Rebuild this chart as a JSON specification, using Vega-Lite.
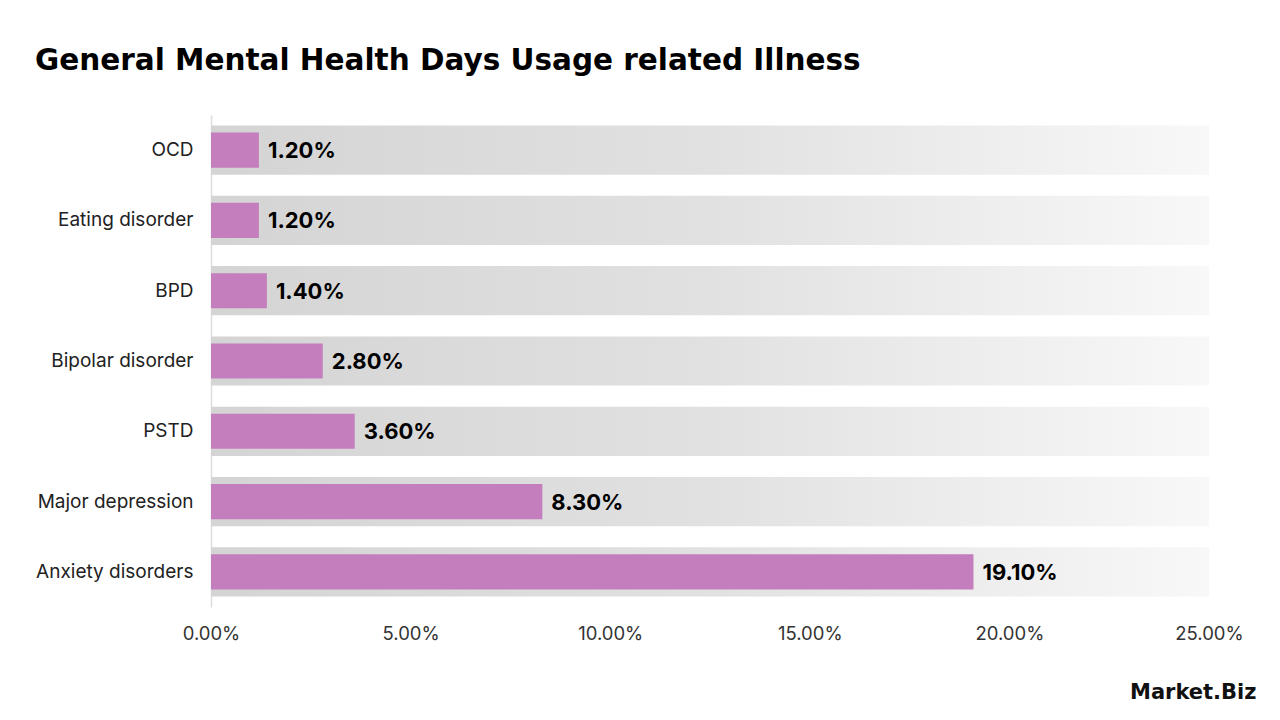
{
  "$schema": "https://vega.github.io/schema/vega-lite/v6.json",
  "width": 998,
  "height": 492,
  "autosize": {"type": "none"},
  "padding": {"left": 211, "top": 115, "right": 71, "bottom": 113},
  "background": "white",
  "config": {"view": {"stroke": null}, "font": "Inter"},
  "title": {
    "text": "General Mental Health Days Usage related Illness",
    "anchor": "start",
    "frame": "group",
    "dx": -176,
    "dy": 28,
    "fontSize": 29.5,
    "fontWeight": "bold",
    "font": "DejaVu Sans",
    "color": "#000000",
    "baseline": "alphabetic",
    "offset": 44
  },
  "data": {
    "values": [
      {"illness": "OCD", "share": 0.012},
      {"illness": "Eating disorder", "share": 0.012},
      {"illness": "BPD", "share": 0.014},
      {"illness": "Bipolar disorder", "share": 0.028},
      {"illness": "PSTD", "share": 0.036},
      {"illness": "Major depression", "share": 0.083},
      {"illness": "Anxiety disorders", "share": 0.191}
    ]
  },
  "encoding": {
    "y": {
      "field": "illness",
      "type": "nominal",
      "sort": null,
      "scale": {"paddingInner": 0, "paddingOuter": 0},
      "axis": {
        "title": null,
        "ticks": false,
        "domain": true,
        "domainColor": "#dddddd",
        "domainWidth": 1.5,
        "labelFontSize": 19,
        "labelColor": "#222222",
        "labelPadding": 18,
        "labelFont": "Inter"
      }
    }
  },
  "layer": [
    {
      "mark": {
        "type": "bar",
        "height": {"band": 0.7},
        "color": {
          "gradient": "linear",
          "x1": 0, "x2": 1, "y1": 0, "y2": 0,
          "stops": [
            {"offset": 0, "color": "#d4d4d4"},
            {"offset": 0.5, "color": "#e1e1e1"},
            {"offset": 1, "color": "#f8f8f8"}
          ]
        }
      },
      "encoding": {
        "x": {
          "datum": 0,
          "type": "quantitative",
          "scale": {"domain": [0, 0.25], "nice": false, "zero": true},
          "axis": {
            "values": [0, 0.05, 0.1, 0.15, 0.2, 0.25],
            "format": ".2%",
            "grid": false,
            "ticks": false,
            "domain": false,
            "labelFlush": false,
            "labelFontSize": 18.5,
            "labelColor": "#333333",
            "labelPadding": 17,
            "labelFont": "Inter",
            "title": "Market.Biz",
            "titleFont": "DejaVu Sans",
            "titleFontSize": 21,
            "titleFontWeight": "bold",
            "titleColor": "#111111",
            "titleAlign": "right",
            "titleAnchor": "end",
            "titleBaseline": "middle",
            "titleX": 1045,
            "titleY": 85
          }
        },
        "x2": {"datum": 0.25}
      }
    },
    {
      "mark": {"type": "bar", "height": {"band": 0.5}, "color": "#c47ebd"},
      "encoding": {
        "x": {"field": "share", "type": "quantitative"}
      }
    },
    {
      "mark": {
        "type": "text",
        "align": "left",
        "baseline": "middle",
        "dx": 9,
        "dy": 1,
        "fontSize": 22,
        "fontWeight": "bold",
        "font": "Inter",
        "color": "#000000"
      },
      "encoding": {
        "x": {"field": "share", "type": "quantitative"},
        "text": {"field": "share", "type": "quantitative", "format": ".2%"}
      }
    }
  ]
}
